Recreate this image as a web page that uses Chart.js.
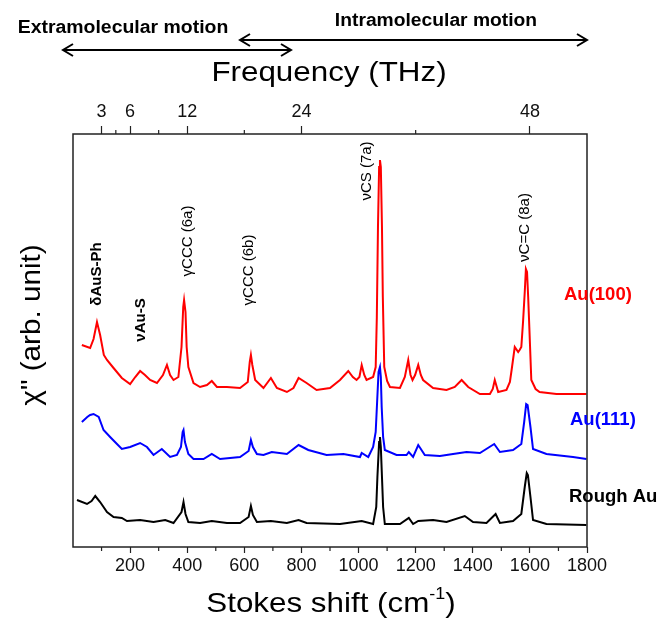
<!DOCTYPE html>
<html>
<head>
<meta charset="utf-8">
<script src="https://cdn.jsdelivr.net/npm/chart.js@4"></script>
<style>
  body { margin: 0; background: #fff; }
  canvas { display: block; }
</style>
</head>
<body>
<canvas id="spectra" width="661" height="628"></canvas>
<script>
// Stokes shift (cm-1) and chi'' values (arb. unit, offset traces)
const shiftAu100 = [31,60,72,84,95,108,119,142,171,200,218,235,252,270,294,315,329,340,352,369,380,386,389,394,398,404,422,445,469,486,504,539,585,612,619,623,628,638,667,693,714,749,772,790,818,853,900,935,964,980,993,1003,1011,1020,1028,1051,1060,1064,1068,1072,1075,1078,1082,1085,1090,1100,1110,1145,1162,1174,1182,1189,1198,1209,1218,1226,1261,1308,1337,1361,1384,1425,1460,1470,1477,1484,1489,1518,1530,1536,1547,1559,1564,1570,1576,1582,1586,1590,1594,1598,1605,1620,1634,1693,1798];
const au100 = [202,199,208,225,212,192,187,179,169,163,170,176,172,167,164,172,182,172,167,170,200,240,247,235,200,180,164,160,162,166,160,160,159,165,185,192,182,167,159,169,159,155,159,169,164,157,159,167,176,170,167,170,182,172,167,170,180,230,320,380,387,380,320,250,180,166,160,159,170,187,172,167,172,182,172,167,159,157,160,167,160,153,153,158,167,160,155,157,165,177,200,195,197,200,225,255,278,275,250,220,167,158,155,153,153];

const shiftAu111 = [31,50,60,72,90,107,130,154,171,200,235,259,282,311,340,364,378,384,387,392,404,422,457,486,515,585,615,623,630,644,667,696,749,790,824,888,947,1005,1011,1034,1051,1060,1065,1070,1075,1078,1081,1086,1092,1133,1168,1176,1191,1209,1232,1285,1331,1378,1425,1475,1495,1541,1570,1580,1587,1592,1602,1611,1658,1751,1798];
const au111 = [125,130,132,133,130,117,110,103,98,100,104,100,92,98,90,92,100,115,117,105,93,88,88,93,88,90,96,107,100,93,92,95,93,102,97,92,93,90,94,90,100,115,145,175,180,170,140,110,97,92,92,95,90,102,92,91,93,95,94,103,95,97,103,125,143,142,120,98,93,90,88];

const shiftRough = [14,49,65,78,95,119,142,171,189,235,282,323,352,380,387,394,404,445,486,539,585,615,623,630,644,693,749,790,818,935,1011,1051,1062,1066,1072,1075,1078,1082,1086,1092,1145,1176,1191,1209,1261,1308,1372,1401,1448,1480,1495,1541,1570,1582,1589,1593,1602,1611,1658,1798];
const roughAu = [47,43,46,51,45,35,30,29,26,27,25,27,24,35,45,33,25,24,26,24,24,30,41,32,25,26,24,27,24,23,26,23,40,70,105,110,100,70,40,23,23,29,23,26,27,25,31,25,24,33,24,26,33,60,74,72,50,27,23,22];

const seriesNames = ['Au(100)', 'Au(111)', 'Rough Au'];
const seriesColors = ['#ff0000', '#0000ff', '#000000'];

// top axis: frequency in THz placed at the matching Stokes shift
const topTickCm = [100, 150, 200, 300, 400, 600, 800, 1200, 1600];
const topTickThz = ['3', '', '6', '', '12', '', '24', '', '48'];

// band assignments
const bandLabels = ['δAuS-Ph', 'νAu-S', 'γCCC (6a)', 'γCCC (6b)', 'νCS (7a)', 'νC=C (8a)'];

const FONT = '"Liberation Sans", Arial, sans-serif';

function pts(xs, ys) {
  return xs.map(function(x, i) { return { x: x, y: ys[i] }; });
}

function drawStretched(ctx, text, x, y, font, sx, rot, color) {
  ctx.save();
  ctx.translate(x, y);
  if (rot) ctx.rotate(rot);
  ctx.scale(sx, 1);
  ctx.font = font;
  ctx.fillStyle = color || '#000';
  ctx.textAlign = 'center';
  ctx.textBaseline = 'middle';
  ctx.fillText(text, 0, 0);
  ctx.restore();
}

function drawArrow(ctx, x1, x2, y) {
  ctx.save();
  ctx.strokeStyle = '#000';
  ctx.lineWidth = 2;
  ctx.beginPath();
  ctx.moveTo(x1, y); ctx.lineTo(x2, y);
  ctx.moveTo(x1 + 10, y - 6); ctx.lineTo(x1, y); ctx.lineTo(x1 + 10, y + 6);
  ctx.moveTo(x2 - 10, y - 6); ctx.lineTo(x2, y); ctx.lineTo(x2 - 10, y + 6);
  ctx.stroke();
  ctx.restore();
}

const decorPlugin = {
  id: 'decor',
  afterDraw(chart) {
    const ctx = chart.ctx;
    const a = chart.chartArea;
    const xs = chart.scales.x;
    const xt = chart.scales.x2;

    // frame
    ctx.save();
    ctx.strokeStyle = '#222';
    ctx.lineWidth = 1.5;
    ctx.strokeRect(a.left, a.top, a.right - a.left, a.bottom - a.top);

    // minor ticks
    ctx.lineWidth = 1.2;
    ctx.beginPath();
    for (let v = 100; v < 1800; v += 200) {
      const px = xs.getPixelForValue(v);
      ctx.moveTo(px, a.bottom); ctx.lineTo(px, a.bottom + 4);
    }
    topTickCm.forEach(function(v, i) {
      if (topTickThz[i]) return;
      const px = xt.getPixelForValue(v);
      ctx.moveTo(px, a.top); ctx.lineTo(px, a.top - 4);
    });
    ctx.stroke();
    ctx.restore();

    // axis titles
    drawStretched(ctx, 'Frequency (THz)', 329, 73, '28px ' + FONT, 1.12, 0);
    drawStretched(ctx, 'χ" (arb. unit)', 32, 325, '28px ' + FONT, 1.06, -Math.PI / 2);

    ctx.save();
    ctx.translate(331, 604);
    ctx.scale(1.12, 1);
    ctx.fillStyle = '#000';
    ctx.textBaseline = 'middle';
    ctx.textAlign = 'left';
    const big = '28px ' + FONT, small = '16px ' + FONT;
    ctx.font = big; const w1 = ctx.measureText('Stokes shift (cm').width; const w3 = ctx.measureText(')').width;
    ctx.font = small; const w2 = ctx.measureText('-1').width;
    const x0 = -(w1 + w2 + w3) / 2;
    ctx.font = big; ctx.fillText('Stokes shift (cm', x0, 0);
    ctx.font = small; ctx.fillText('-1', x0 + w1, -9);
    ctx.font = big; ctx.fillText(')', x0 + w1 + w2, 0);
    ctx.restore();

    // motion ranges
    drawStretched(ctx, 'Extramolecular motion', 123, 28, 'bold 18px ' + FONT, 1.08, 0);
    drawStretched(ctx, 'Intramolecular motion', 436, 21, 'bold 18px ' + FONT, 1.07, 0);
    drawArrow(ctx, 240, 587, 40);
    drawArrow(ctx, 63, 291, 50);

    // band assignments (rotated)
    const bandPos = [[97, 274, true], [141, 320, true], [187.5, 241, false], [249, 270, false], [366.5, 171, false], [524.5, 227.5, false]];
    bandLabels.forEach(function(t, i) {
      const p = bandPos[i];
      drawStretched(ctx, t, p[0], p[1], (p[2] ? 'bold ' : '') + '15px ' + FONT, 1, -Math.PI / 2);
    });

    // series labels
    const labPos = [[564, 295], [570, 420], [569, 497]];
    ctx.save();
    ctx.font = 'bold 18.5px ' + FONT;
    ctx.textAlign = 'left';
    ctx.textBaseline = 'middle';
    seriesNames.forEach(function(n, i) {
      ctx.fillStyle = seriesColors[i];
      ctx.fillText(n, labPos[i][0], labPos[i][1]);
    });
    ctx.restore();
  }
};

const datasets = [
  pts(shiftAu100, au100),
  pts(shiftAu111, au111),
  pts(shiftRough, roughAu)
].map(function(d, i) {
  return {
    label: seriesNames[i],
    data: d,
    borderColor: seriesColors[i],
    borderWidth: 2,
    pointRadius: 0,
    tension: 0,
    fill: false
  };
});

new Chart(document.getElementById('spectra'), {
  type: 'line',
  data: { datasets: datasets },
  options: {
    responsive: false,
    animation: false,
    layout: { padding: { left: 73, right: 74, top: 0, bottom: 0 } },
    plugins: { legend: { display: false }, tooltip: { enabled: false } },
    scales: {
      x: {
        type: 'linear',
        position: 'bottom',
        min: 0,
        max: 1800,
        afterFit: function(s) { s.height = 81; },
        border: { display: false },
        grid: {
          drawOnChartArea: false,
          tickLength: 6,
          tickWidth: 1.2,
          tickColor: function(c) {
            const v = c.tick ? c.tick.value : 0;
            return (v > 0 && v % 200 === 0) ? '#222' : 'rgba(0,0,0,0)';
          }
        },
        ticks: {
          stepSize: 100,
          autoSkip: false,
          maxRotation: 0,
          padding: 2,
          color: '#111',
          font: { family: FONT, size: 18 },
          callback: function(v) { return (v > 0 && v % 200 === 0) ? String(v) : ''; }
        }
      },
      x2: {
        type: 'linear',
        position: 'top',
        min: 0,
        max: 1800,
        afterFit: function(s) { s.height = 134; },
        afterBuildTicks: function(s) { s.ticks = topTickCm.map(function(v) { return { value: v }; }); },
        border: { display: false },
        grid: {
          drawOnChartArea: false,
          tickLength: 8,
          tickWidth: 1.2,
          tickColor: function(c) { return topTickThz[c.index] ? '#222' : 'rgba(0,0,0,0)'; }
        },
        ticks: {
          autoSkip: false,
          maxRotation: 0,
          padding: 3,
          color: '#111',
          font: { family: FONT, size: 18 },
          callback: function(v, i) { return topTickThz[i]; }
        }
      },
      y: {
        display: false,
        min: 0,
        max: 413
      }
    }
  },
  plugins: [decorPlugin]
});
</script>
</body>
</html>
